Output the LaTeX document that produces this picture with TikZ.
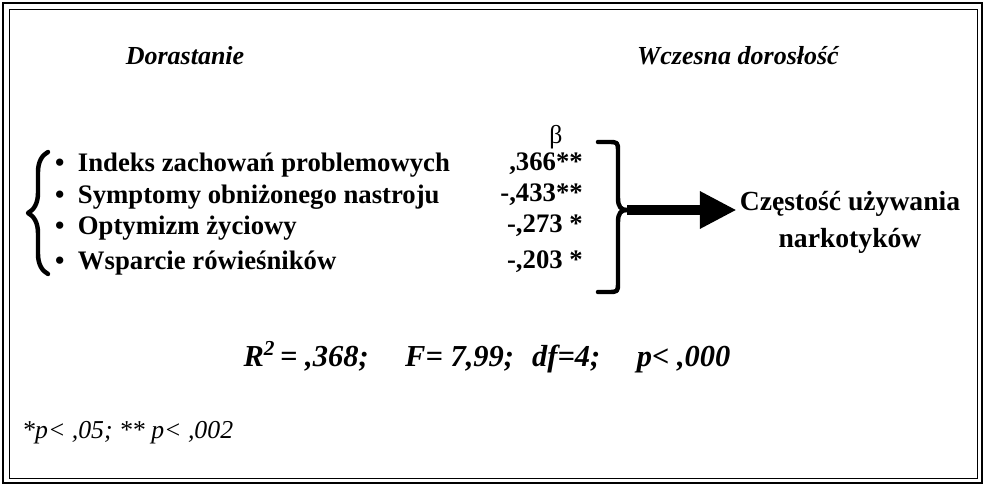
\documentclass[tikz,border=0pt]{standalone}
\usepackage{fontspec}
\setmainfont{Liberation Serif}
\usepackage{tikz}
\usetikzlibrary{arrows.meta,decorations.pathreplacing}

\tikzset{
  heading/.style={font=\bfseries\itshape\fontsize{22.2}{26}\selectfont, inner sep=0pt},
  predictor/.style={anchor=west, font=\bfseries\fontsize{22.8}{27}\selectfont, inner sep=0pt},
  coef/.style={anchor=east, font=\bfseries\fontsize{22.8}{27}\selectfont, inner sep=0pt},
  bracket/.style={line width=3.8pt, line cap=round, line join=round},
}

\begin{document}
\begin{tikzpicture}[x=0.03cm,y=-0.03cm]
    \useasboundingbox (0,0) rectangle (985,486);
    \draw[line width=1.2pt] (3,3) rectangle (982,483);
    \draw[line width=0.8pt] (9,9) rectangle (977,478);

    \node[heading] (dor) at (185,56) {Dorastanie};
    \node[heading] (wcz) at (738,56) {Wczesna dorosłość};

    \node[
      font=\fontsize{22}{26}\selectfont,
      inner sep=0pt
    ] (beta) at (556,137) {β};

    \node[predictor] (p1) at (55,165) {•\hspace{0.5em}Indeks zachowań problemowych};
    \node[predictor] (p2) at (55,197) {•\hspace{0.5em}Symptomy obniżonego nastroju};
    \node[predictor] (p3) at (55,228) {•\hspace{0.5em}Optymizm życiowy};
    \node[predictor] (p4) at (55,263) {•\hspace{0.5em}Wsparcie rówieśników};

    \node[coef] (c1) at (583,164) {,366**};
    \node[coef] (c2) at (583,195) {-,433**};
    \node[coef] (c3) at (583,226) {-,273 *};
    \node[coef] (c4) at (583,262) {-,203 *};

    \draw[bracket, decorate, decoration={brace, amplitude=0.6cm}]
      (48,274) -- (48,152);
    \coordinate (bt) at (627,210);
    \draw[bracket]
      (598,142) -- (608,142)
      .. controls (618,142) .. (618,152)
      -- (618,198)
      .. controls (618,207) and (621,210) .. (bt)
      .. controls (621,210) and (618,213) .. (618,222)
      -- (618,282)
      .. controls (618,292) .. (608,292)
      -- (598,292);

    \node[
      font=\bfseries\fontsize{23.6}{31.5}\selectfont,
      align=center,
      inner sep=0pt
    ] (tgt) at (850,222) {Częstość używania\\narkotyków};
    \draw[line width=0.3cm, -{Triangle[length=1.1cm,width=1.05cm]}, shorten >=0.09cm]
      (bt) -- (bt -| tgt.west);

    \node[
      font=\bfseries\itshape\fontsize{26}{30}\selectfont,
      inner sep=0pt
    ] (stat) at (487,357) {R\textsuperscript{2}\,= ,368;\hspace{1.2em}F= 7,99;\hspace{0.6em}df=4;\hspace{1.2em}p< ,000};
    \node[
      anchor=west,
      font=\itshape\fontsize{22}{26}\selectfont,
      inner sep=0pt
    ] (note) at (22,433) {*p< ,05; ** p< ,002};
\end{tikzpicture}
\end{document}
